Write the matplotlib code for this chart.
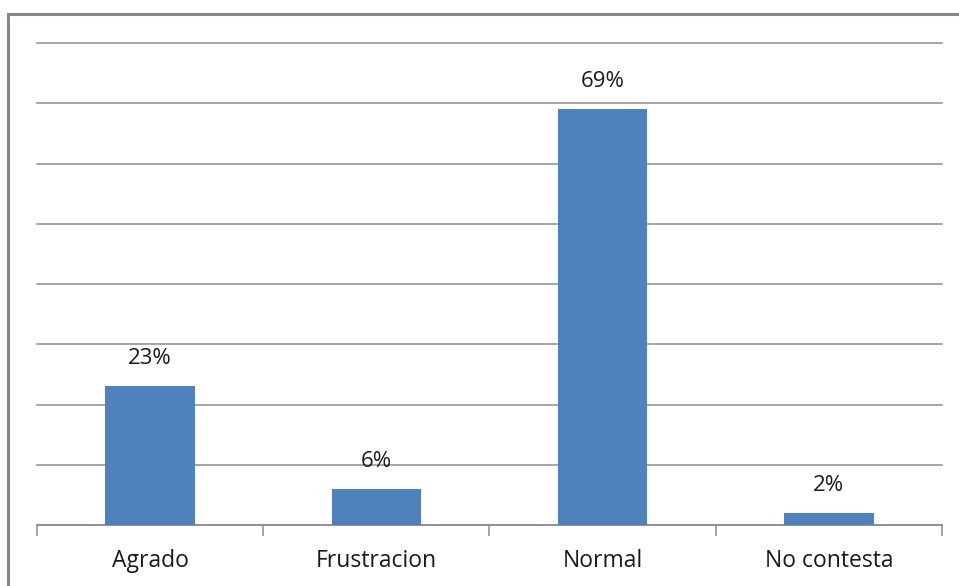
import matplotlib
matplotlib.use("Agg")
import matplotlib.pyplot as plt
from matplotlib.patches import Rectangle

categories = ["Agrado", "Frustracion", "Normal", "No contesta"]
values = [23, 6, 69, 2]
value_labels = ["23%", "6%", "69%", "2%"]

W, H = 959, 586
fig = plt.figure(figsize=(W / 100, H / 100), dpi=100)
fig.patch.set_facecolor("white")

# outer chart frame
fig.patches.append(Rectangle((8 / W, -0.05), 1.1, 1 - 14 / H + 0.05,
                             transform=fig.transFigure, fill=False,
                             edgecolor="#878787", linewidth=2.2, zorder=0))

left, right, top, bottom = 37, 942, 43, 525
ax = fig.add_axes([left / W, 1 - bottom / H, (right - left) / W, (bottom - top) / H])
ax.set_xlim(-0.5, len(categories) - 0.5)
ax.set_ylim(0, 80)

x = range(len(categories))
bars = ax.bar(x, values, width=0.395, color="#4F81BD", zorder=3)

ax.set_yticks(range(0, 81, 10))
ax.yaxis.grid(True, color="#8c8c8c", linewidth=1.1)
for gl in ax.get_ygridlines():
    gl.set_clip_on(False)
ax.set_axisbelow(True)
ax.tick_params(axis="y", left=False, labelleft=False)

for s in ["left", "right", "top"]:
    ax.spines[s].set_visible(False)
ax.spines["bottom"].set_color("#8c8c8c")
ax.spines["bottom"].set_linewidth(1.1)

# category boundaries as tick marks, names centred between them
ax.set_xticks([i - 0.5 for i in range(len(categories) + 1)])
ax.set_xticklabels([])
ax.tick_params(axis="x", length=8, color="#8c8c8c", width=1.1)
for i, name in enumerate(categories):
    ax.annotate(name, (i, 0), xytext=(0, -26), textcoords="offset points",
                ha="center", va="center", fontsize=16.5, color="#1a1a1a",
                family="Open Sans")

for b, v, lab in zip(bars, values, value_labels):
    ax.annotate(lab, (b.get_x() + b.get_width() / 2, v), xytext=(0, 20),
                textcoords="offset points", ha="center", va="center",
                fontsize=16, color="#1a1a1a", family="Open Sans")

fig.savefig("out.png", dpi=100, facecolor="white")
